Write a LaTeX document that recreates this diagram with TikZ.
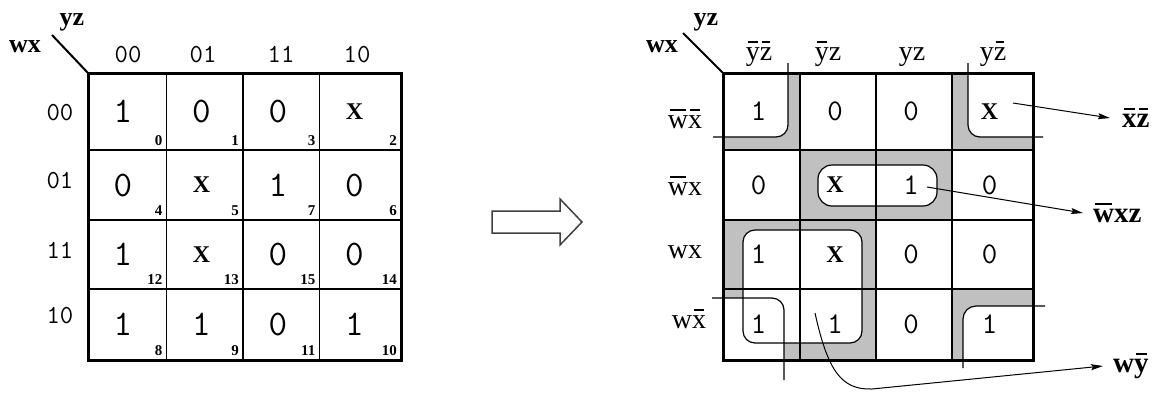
\documentclass[tikz,border=0pt]{standalone}
\usepackage{fontspec}
\setmainfont{Liberation Serif}
\usetikzlibrary{arrows.meta}
\newsavebox{\obbox}
\newcommand{\ob}[1]{\sbox{\obbox}{#1}\rlap{\hspace{0.07em}\raisebox{0.62em}{\rule{\dimexpr\wd\obbox-0.14em\relax}{0.055em}}}\usebox{\obbox}}
\newcommand{\xx}{{\rmfamily\bfseries\fontsize{24}{24}\selectfont X}}
\definecolor{kgray}{RGB}{192,192,192}
\tikzset{
  gridline/.style={line width=1.2pt},
  outerbox/.style={line width=3pt},
  loopline/.style={line width=1.2pt},
  diagline/.style={line width=2pt},
  conn/.style={line width=1pt,-{Stealth[length=12pt,width=6pt,inset=2pt]}},
  valL/.style={inner sep=0pt,font=\ttfamily\fontsize{36}{36}\selectfont},
  valR/.style={inner sep=0pt,font=\ttfamily\fontsize{30}{30}\selectfont},
  subn/.style={inner sep=0pt,anchor=base east,font=\bfseries\fontsize{15}{15}\selectfont},
  hdrL/.style={inner sep=0pt,anchor=base,font=\ttfamily\fontsize{26}{26}\selectfont},
  hdrR/.style={inner sep=0pt,anchor=base,font=\fontsize{28}{28}\selectfont},
  cornerlab/.style={inner sep=0pt,anchor=base,font=\bfseries\fontsize{26}{26}\selectfont},
  outlab/.style={inner sep=0pt,anchor=west,font=\bfseries\fontsize{29}{29}\selectfont},
  hollow/.style={line width=1.5pt,draw=black!75,fill=white}
}
% name, xl, xr, yt, yb, value, sub
\newcommand{\lcell}[7]{%
  \node[valL] (#1) at ({#2+35},{(#4+#5)/2}) {#6};
  \node[subn] (#1s) at ({#3-4},{#5-5}) {#7};}
\newcommand{\rcell}[6]{%
  \node[valR] (#1) at ({(#2+#3)/2-3},{(#4+#5)/2}) {#6};}
\begin{document}
\begin{tikzpicture}[x=1pt,y=-1pt]
\useasboundingbox[fill=white] (0,0) rectangle (1168,392);

% ================= LEFT MAP =================
\foreach \x in {166.5,243,319.5} \draw[gridline] (\x,73) -- (\x,360);
\foreach \y in {150,220,289} \draw[gridline] (88,\y) -- (401,\y);
\draw[outerbox] (88,73) rectangle (401,360);
\coordinate (ldiag) at (52,35);
\coordinate (lcorner) at (88,73);
\draw[diagline] (ldiag) -- (lcorner);
\node[cornerlab] (lyz) at (72,25) {yz};
\node[cornerlab] (lwx) at (25,52) {wx};
\node[hdrL] (lh0) at (128,62) {00};
\node[hdrL] (lh1) at (203,62) {01};
\node[hdrL] (lh2) at (281,62) {11};
\node[hdrL] (lh3) at (357,62) {10};
\node[hdrL] (lr0) at (60,120) {00};
\node[hdrL] (lr1) at (60,188) {01};
\node[hdrL] (lr2) at (60,258) {11};
\node[hdrL] (lr3) at (60,323) {10};

\lcell{L00}{88}{166.5}{73}{150}{1}{0}
\lcell{L01}{166.5}{243}{73}{150}{0}{1}
\lcell{L02}{243}{319.5}{73}{150}{0}{3}
\lcell{L03}{319.5}{401}{73}{150}{\xx}{2}
\lcell{L10}{88}{166.5}{150}{220}{0}{4}
\lcell{L11}{166.5}{243}{150}{220}{\xx}{5}
\lcell{L12}{243}{319.5}{150}{220}{1}{7}
\lcell{L13}{319.5}{401}{150}{220}{0}{6}
\lcell{L20}{88}{166.5}{220}{289}{1}{12}
\lcell{L21}{166.5}{243}{220}{289}{\xx}{13}
\lcell{L22}{243}{319.5}{220}{289}{0}{15}
\lcell{L23}{319.5}{401}{220}{289}{0}{14}
\lcell{L30}{88}{166.5}{289}{360}{1}{8}
\lcell{L31}{166.5}{243}{289}{360}{1}{9}
\lcell{L32}{243}{319.5}{289}{360}{0}{11}
\lcell{L33}{319.5}{401}{289}{360}{1}{10}

% ================= HOLLOW ARROW =================
\draw[hollow] (492,211) -- (560,211) -- (560,199) -- (582,222) -- (560,245) -- (560,233) -- (492,233) -- cycle;

% ================= RIGHT MAP =================
% shaded group cells
\fill[kgray] (723,73) rectangle (800,150);
\fill[kgray] (952,73) rectangle (1033,150);
\fill[kgray] (952,289) rectangle (1033,360);
\fill[kgray] (800,150) rectangle (952,220);
\fill[kgray] (723,220) rectangle (876,360);
% loop interiors
\begin{scope}
  \clip (723,73) rectangle (1033,360);
  \fill[white,rounded corners=12] (650,20) rectangle (788,137);
  \fill[white,rounded corners=12] (968,20) rectangle (1100,137);
  \fill[white,rounded corners=13] (963,306) rectangle (1100,420);
  \fill[white,rounded corners=12] (650,298) rectangle (784,420);
  \fill[white,rounded corners=14] (818,165) rectangle (937,206);
  \fill[white,rounded corners=12] (743,230) rectangle (862,343);
\end{scope}
\foreach \x in {800,876,952} \draw[gridline] (\x,73) -- (\x,360);
\foreach \y in {150,220,289} \draw[gridline] (723,\y) -- (1033,\y);
\draw[outerbox] (723,73) rectangle (1033,360);
% loop outlines
\draw[loopline,rounded corners=12] (788,63) -- (788,137) -- (713,137);
\draw[loopline,rounded corners=12] (968,63) -- (968,137) -- (1043,137);
\draw[loopline,rounded corners=13] (1045,306) -- (963,306) -- (963,368);
\draw[loopline,rounded corners=12] (712,298) -- (784,298) -- (784,380);
\draw[loopline,rounded corners=14] (818,165) rectangle (937,206);
\draw[loopline,rounded corners=12] (743,230) rectangle (862,343);

\coordinate (rdiag) at (683,33);
\coordinate (rcorner) at (723,73);
\draw[diagline] (rdiag) -- (rcorner);
\node[cornerlab] (ryz) at (706,25) {yz};
\node[cornerlab] (rwx) at (662,52) {wx};
\node[hdrR] (rh0) at (759,60) {\ob{y}\ob{z}};
\node[hdrR] (rh1) at (828,60) {\ob{y}z};
\node[hdrR] (rh2) at (912,60) {yz};
\node[hdrR] (rh3) at (993,60) {y\ob{z}};
\node[hdrR] (rr0) at (685,128) {\ob{w}\ob{x}};
\node[hdrR] (rr1) at (685,195) {\ob{w}x};
\node[hdrR] (rr2) at (685,258) {wx};
\node[hdrR] (rr3) at (689,328) {w\ob{x}};

\rcell{R00}{723}{800}{73}{150}{1}
\rcell{R01}{800}{876}{73}{150}{0}
\rcell{R02}{876}{952}{73}{150}{0}
\rcell{R03}{952}{1033}{73}{150}{\xx}
\rcell{R10}{723}{800}{150}{220}{0}
\rcell{R11}{800}{876}{150}{220}{\xx}
\rcell{R12}{876}{952}{150}{220}{1}
\rcell{R13}{952}{1033}{150}{220}{0}
\rcell{R20}{723}{800}{220}{289}{1}
\rcell{R21}{800}{876}{220}{289}{\xx}
\rcell{R22}{876}{952}{220}{289}{0}
\rcell{R23}{952}{1033}{220}{289}{0}
\rcell{R30}{723}{800}{289}{360}{1}
\rcell{R31}{800}{876}{289}{360}{1}
\rcell{R32}{876}{952}{289}{360}{0}
\rcell{R33}{952}{1033}{289}{360}{1}

% output labels and connectors
\node[outlab] (oxz) at (1122,118) {\ob{x}\ob{z}};
\node[outlab] (owxz) at (1093,213) {\ob{w}xz};
\node[outlab] (owy) at (1113,366) {w\ob{y}};
\coordinate (s1) at (1013,103);
\coordinate (s2) at (927,187);
\coordinate (s3) at (815,313);
\draw[conn] (s1) -- ([xshift=-12pt]oxz.west);
\draw[conn] (s2) -- ([xshift=-10pt]owxz.west);
\draw[conn] (s3) .. controls (828,372) and (842,390) .. (872,389) -- ([xshift=-10pt]owy.west);
\end{tikzpicture}
\end{document}
